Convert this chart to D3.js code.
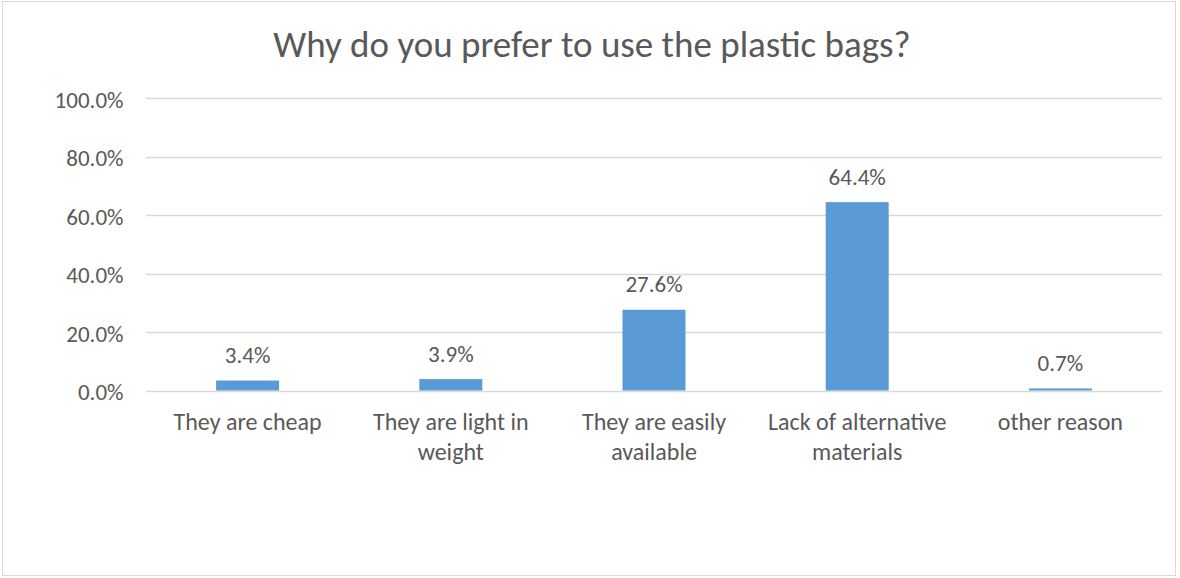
<!DOCTYPE html>
<html>
<head>
<meta charset="utf-8">
<script src="https://cdn.jsdelivr.net/npm/d3@7"></script>
<style>
  html, body { margin: 0; padding: 0; background: #fff; }
  svg { display: block; }
  text { font-family: Carlito, Calibri, Lato, "Open Sans", sans-serif; fill: #595959; }
</style>
</head>
<body>
<svg id="chart" width="1180" height="578"></svg>
<script>
const title = "Why do you prefer to use the plastic bags?";
const categories = [
  ["They are cheap"],
  ["They are light in", "weight"],
  ["They are easily", "available"],
  ["Lack of alternative", "materials"],
  ["other reason"]
];
const values = [3.4, 3.9, 27.6, 64.4, 0.7];
const yTicks = [0, 20, 40, 60, 80, 100];

const plot = { left: 146, right: 1162, top: 98, bottom: 390.5 };

const svg = d3.select("#chart");

svg.append("rect")
  .attr("x", 2.5).attr("y", 1.5)
  .attr("width", 1173).attr("height", 574)
  .attr("fill", "#fff").attr("stroke", "#d9d9d9").attr("stroke-width", 1);

const x = d3.scaleBand()
  .domain(d3.range(categories.length))
  .range([plot.left, plot.right])
  .paddingInner(0.69).paddingOuter(0.345);

const y = d3.scaleLinear().domain([0, 100]).range([plot.bottom, plot.top]);

// gridlines
svg.append("g")
  .selectAll("line")
  .data(yTicks)
  .join("line")
  .attr("x1", plot.left).attr("x2", plot.right)
  .attr("y1", d => Math.round(y(d)) + 0.5).attr("y2", d => Math.round(y(d)) + 0.5)
  .attr("stroke", "#d9d9d9").attr("stroke-width", 1.5);

// y axis labels
const yAxis = d3.axisLeft(y).tickValues(yTicks).tickSize(0).tickPadding(0)
  .tickFormat(d => d3.format(".1f")(d) + "%");
const yg = svg.append("g").attr("transform", `translate(${123.5},0)`).call(yAxis);
yg.select(".domain").remove();
yg.selectAll("text")
  .attr("font-family", "Carlito, Calibri, Lato, sans-serif")
  .style("font-size", "23px").attr("fill", "#595959")
  .attr("dy", "9px");

// bars
svg.append("g")
  .selectAll("rect")
  .data(values)
  .join("rect")
  .attr("x", (d, i) => x(i))
  .attr("width", x.bandwidth())
  .attr("y", d => y(d))
  .attr("height", d => y(0) - y(d))
  .attr("fill", "#5b9bd5");

// data labels
svg.append("g")
  .selectAll("text")
  .data(values)
  .join("text")
  .attr("x", (d, i) => x(i) + x.bandwidth() / 2)
  .attr("y", d => y(d) - 17.5)
  .attr("text-anchor", "middle")
  .style("font-size", "23px")
  .text(d => d3.format(".1f")(d) + "%");

// category labels
const cg = svg.append("g")
  .selectAll("text")
  .data(categories)
  .join("text")
  .attr("text-anchor", "middle")
  .style("font-size", "24px");
cg.selectAll("tspan")
  .data((d, i) => d.map(t => ({ t, i })))
  .join("tspan")
  .attr("x", d => x(d.i) + x.bandwidth() / 2)
  .attr("y", (d, j) => 429.5 + j * 30)
  .text(d => d.t);

// title
svg.append("text")
  .attr("x", 592).attr("y", 57)
  .attr("text-anchor", "middle")
  .style("font-size", "37px")
  .text(title);
</script>
</body>
</html>
